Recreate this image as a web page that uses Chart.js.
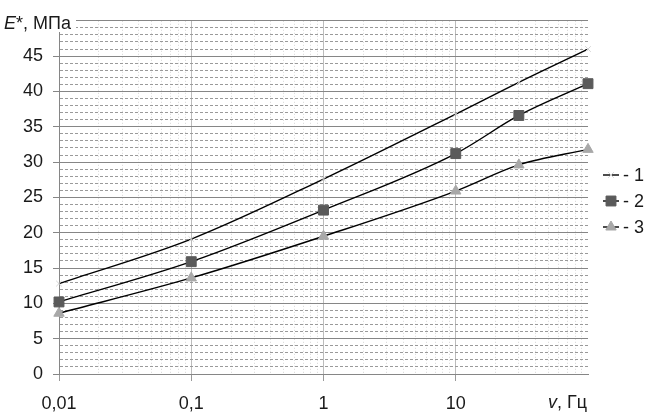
<!DOCTYPE html>
<html>
<head>
<meta charset="utf-8">
<script src="https://cdn.jsdelivr.net/npm/chart.js@4/dist/chart.umd.min.js"></script>
<style>
  html, body { margin: 0; padding: 0; background: #fff; }
  #wrap { width: 651px; height: 418px; }
</style>
</head>
<body>
<div id="wrap"><canvas id="c" width="651" height="418"></canvas></div>
<script>
// ---- data ----
const frequencies = [0.01, 0.1, 1, 10, 30, 100];          // v, Гц
const series1 = [12.8, 19.1, 27.6, 36.8, 41.3, 46.0];       // curve 1
const series2 = [10.2, 15.9, 23.2, 31.2, 36.6, 41.1];       // curve 2
const series3 = [8.6, 13.6, 19.5, 25.9, 29.6, 31.8];        // curve 3
const seriesLabels = ['- 1', '- 2', '- 3'];
const xTickValues = [0.01, 0.1, 1, 10];
const xTickText = ['0,01', '0,1', '1', '10'];
const yTitleItalic = 'E';
const yTitleRest = '*, МПа';
const xTitleItalic = 'v';
const xTitleRest = ', Гц';

const FONT = '"Liberation Sans", Arial, sans-serif';
const TEXT = '#1a1a1a';

function toPoints(vals) { return frequencies.map((f, i) => ({ x: f, y: vals[i] })); }
function isDecade(v) { const l = Math.log10(v); return Math.abs(l - Math.round(l)) < 1e-6; }

const common = { borderColor: '#000', borderWidth: 1.4, cubicInterpolationMode: 'monotone', clip: false, pointBorderWidth: 1 };
const datasets = [
  Object.assign({ label: seriesLabels[0], data: toPoints(series1),
    pointStyle: 'crossRot', pointRadius: 4, pointBorderColor: '#d4d4d4', pointBackgroundColor: '#d4d4d4' }, common),
  Object.assign({ label: seriesLabels[1], data: toPoints(series2),
    pointStyle: 'rect', pointRadius: 7, pointBorderColor: '#5a5a5a', pointBackgroundColor: '#5a5a5a' }, common),
  Object.assign({ label: seriesLabels[2], data: toPoints(series3),
    pointStyle: 'triangle', pointRadius: 6, pointBorderColor: '#a8a8a8', pointBackgroundColor: '#a8a8a8' }, common)
];

const overlayPlugin = {
  id: 'overlay',
  afterDraw(chart) {
    const ctx = chart.ctx;
    const area = chart.chartArea;
    const xs = chart.scales.x, ys = chart.scales.y;
    ctx.save();
    // y-axis title, covering the top-left corner of the grid
    ctx.fillStyle = '#fff';
    ctx.fillRect(0, 0, 76, 32);
    ctx.fillStyle = TEXT;
    ctx.textBaseline = 'middle';
    ctx.textAlign = 'left';
    let tx = 4;
    const ty = ys.getPixelForValue(ys.max) + 3;
    ctx.font = 'italic 18px ' + FONT;
    ctx.fillText(yTitleItalic, tx, ty);
    tx += ctx.measureText(yTitleItalic).width;
    ctx.font = '18px ' + FONT;
    ctx.fillText(yTitleRest, tx, ty);
    // x-axis title, right aligned to the axis end
    ctx.font = '18px ' + FONT;
    const wRest = ctx.measureText(xTitleRest).width;
    ctx.font = 'italic 18px ' + FONT;
    const wIt = ctx.measureText(xTitleItalic).width;
    const xRight = xs.getPixelForValue(xs.max) - 1;
    const xy = area.bottom + 29;
    ctx.fillText(xTitleItalic, xRight - wRest - wIt, xy);
    ctx.font = '18px ' + FONT;
    ctx.fillText(xTitleRest, xRight - wRest, xy);
    // legend
    const legendY = [175, 201, 227];
    chart.data.datasets.forEach((ds, i) => {
      const y = legendY[i];
      ctx.strokeStyle = ds.borderColor;
      ctx.lineWidth = ds.borderWidth;
      ctx.setLineDash([]);
      ctx.beginPath();
      ctx.moveTo(603, y); ctx.lineTo(619, y); ctx.stroke();
      ctx.fillStyle = ds.pointBackgroundColor;
      ctx.strokeStyle = ds.pointBorderColor;
      ctx.lineWidth = ds.pointBorderWidth;
      Chart.helpers.drawPoint(ctx, { pointStyle: ds.pointStyle, radius: ds.pointRadius, rotation: 0, borderWidth: ds.pointBorderWidth }, 611, y);
      ctx.fillStyle = TEXT;
      ctx.font = '18px ' + FONT;
      ctx.textBaseline = 'middle';
      ctx.textAlign = 'left';
      ctx.fillText(ds.label, 623, y + 1);
    });
    ctx.restore();
  }
};

new Chart(document.getElementById('c'), {
  type: 'line',
  data: { datasets },
  plugins: [overlayPlugin],
  options: {
    responsive: false,
    animation: false,
    events: [],
    layout: { padding: { top: 15, right: 63, left: 0, bottom: 0 } },
    plugins: { legend: { display: false }, tooltip: { enabled: false }, title: { display: false } },
    scales: {
      x: {
        type: 'logarithmic',
        min: 0.01, max: 100,
        afterBuildTicks(scale) {
          const t = [];
          for (let e = -2; e < 2; e++) {
            for (let m = 1; m <= 9; m++) t.push({ value: +(m * Math.pow(10, e)).toPrecision(6) });
          }
          t.push({ value: 100 });
          scale.ticks = t;
        },
        afterFit(scale) { scale.height = 44; },
        ticks: {
          autoSkip: false, maxRotation: 0, minRotation: 0, padding: 12,
          color: TEXT, font: { family: FONT, size: 18 },
          callback(value) {
            const k = xTickValues.findIndex(v => Math.abs(Math.log10(v) - Math.log10(value)) < 1e-6);
            return k >= 0 ? xTickText[k] : '';
          }
        },
        grid: {
          color(ctx) {
            if (!ctx.tick) return '#bcbcbc';
            const v = ctx.tick.value;
            if (v >= 100) return 'rgba(0,0,0,0)';
            return isDecade(v) ? '#bcbcbc' : '#d6d6d6';
          },
          lineWidth: 1,
          tickLength: 7,
          tickColor(ctx) { return ctx.tick && isDecade(ctx.tick.value) && ctx.tick.value < 100 ? '#9a9a9a' : 'rgba(0,0,0,0)'; }
        },
        border: {
          display: true, color: '#868686', width: 1,
          dash(ctx) { return (ctx.type === 'tick' && ctx.tick && !isDecade(ctx.tick.value)) ? [1, 2] : []; }
        }
      },
      y: {
        type: 'linear',
        min: 0, max: 50,
        afterFit(scale) { scale.width = 59; },
        ticks: {
          stepSize: 1, autoSkip: false, padding: 10,
          color: TEXT, font: { family: FONT, size: 18 },
          callback(value) { return (value % 5 === 0 && value < 50) ? String(value) : ''; }
        },
        grid: {
          color(ctx) { return ctx.tick && ctx.tick.value % 5 === 0 ? '#868686' : '#9a9a9a'; },
          lineWidth: 1,
          tickLength: 6,
          tickColor(ctx) { return ctx.tick && ctx.tick.value % 5 === 0 ? '#868686' : 'rgba(0,0,0,0)'; }
        },
        border: {
          display: true, color: '#868686', width: 1,
          dash(ctx) { return (ctx.type === 'tick' && ctx.tick && ctx.tick.value % 5 !== 0) ? [3, 2] : []; }
        }
      }
    }
  }
});
</script>
</body>
</html>
